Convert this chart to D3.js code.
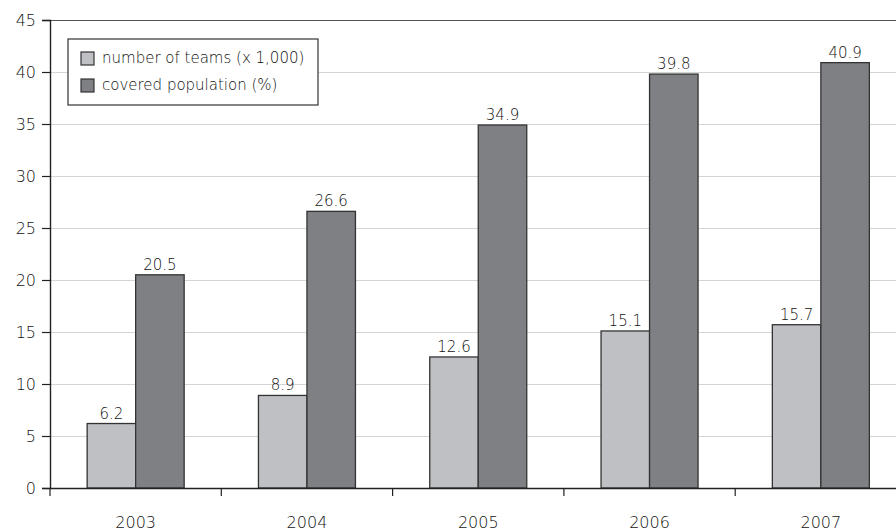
<!DOCTYPE html>
<html>
<head>
<meta charset="utf-8">
<script src="https://cdn.jsdelivr.net/npm/d3@7"></script>
<style>
  body { margin: 0; background: #fff; }
  svg { display: block; font-family: "DejaVu Sans", sans-serif; font-weight: 200; }
  svg text { font-family: "DejaVu Sans", sans-serif; font-weight: 200; }
</style>
</head>
<body>
<svg id="chart" width="896" height="531"></svg>
<script>
var years = ["2003", "2004", "2005", "2006", "2007"];
var teams = [6.2, 8.9, 12.6, 15.1, 15.7];
var coverage = [20.5, 26.6, 34.9, 39.8, 40.9];
var seriesNames = ["number of teams (x 1,000)", "covered population (%)"];
var yTicks = [0, 5, 10, 15, 20, 25, 30, 35, 40, 45];

var colors = ["#bfc0c4", "#7f8084"];
var textColor = "#111";
var plotLeft = 50, plotTop = 20, plotBottom = 488, plotRight = 906.5;

var svg = d3.select("#chart");

var x = d3.scaleBand().domain(years).range([plotLeft, plotRight]).paddingInner(0).paddingOuter(0);
var y = d3.scaleLinear().domain([0, 45]).range([plotBottom, plotTop]);
var inner = d3.scaleBand().domain([0, 1]).range([0, 97]);
var pad = (x.bandwidth() - 97) / 2;

// gridlines
svg.append("g").selectAll("line")
  .data(yTicks.filter(function(d){ return d > 0 && d < 45; }))
  .enter().append("line")
  .attr("x1", plotLeft).attr("x2", 896)
  .attr("y1", function(d){ return y(d) + 0.5; })
  .attr("y2", function(d){ return y(d) + 0.5; })
  .attr("stroke", "#d4d4d4").attr("stroke-width", 1);

// top border
svg.append("line")
  .attr("x1", plotLeft).attr("x2", 896)
  .attr("y1", y(45) + 0.5).attr("y2", y(45) + 0.5)
  .attr("stroke", "#555").attr("stroke-width", 1.2);

// bars
var data = years.map(function(yr, i){ return [teams[i], coverage[i]]; });
var groups = svg.append("g").selectAll("g")
  .data(data).enter().append("g")
  .attr("transform", function(d, i){ return "translate(" + (x(years[i]) + pad) + ",0)"; });

groups.selectAll("rect")
  .data(function(d){ return d; })
  .enter().append("rect")
  .attr("x", function(d, j){ return inner(j); })
  .attr("width", inner.bandwidth())
  .attr("y", function(d){ return y(d); })
  .attr("height", function(d){ return plotBottom - y(d); })
  .attr("fill", function(d, j){ return colors[j]; })
  .attr("stroke", "#333").attr("stroke-width", 1.3);

groups.selectAll("text")
  .data(function(d){ return d; })
  .enter().append("text")
  .attr("x", function(d, j){ return inner(j) + inner.bandwidth() / 2; })
  .attr("y", function(d){ return y(d) - 5; })
  .attr("text-anchor", "middle")
  .attr("font-size", 15).attr("fill", textColor)
  .text(function(d){ return d.toFixed(1); });

// y axis
var yAxis = d3.axisLeft(y).tickValues(yTicks).tickSize(8).tickPadding(6);
var gy = svg.append("g").attr("transform", "translate(" + plotLeft + ",0)").call(yAxis);
gy.attr("font-family", null);
gy.select(".domain").attr("stroke", "#222").attr("stroke-width", 1.4);
gy.selectAll(".tick line").attr("stroke", "#222").attr("stroke-width", 1.2);
gy.selectAll("text").attr("font-size", 16).attr("fill", textColor);

// x axis
var xAxis = d3.axisBottom(x).tickSize(0).tickPadding(29);
var gx = svg.append("g").attr("transform", "translate(0," + plotBottom + ")").call(xAxis);
gx.attr("font-family", null);
gx.select(".domain").attr("stroke", "#222").attr("stroke-width", 1.4);
gx.selectAll("text").attr("font-size", 16).attr("fill", textColor);
gx.selectAll(".sep").data(years).enter().append("line")
  .attr("class", "sep")
  .attr("x1", function(d){ return x(d); }).attr("x2", function(d){ return x(d); })
  .attr("y1", 0).attr("y2", 8)
  .attr("stroke", "#222").attr("stroke-width", 1.2);

// legend
var lg = svg.append("g").attr("transform", "translate(68,39)");
lg.append("rect").attr("width", 250).attr("height", 66)
  .attr("fill", "#fff").attr("stroke", "#333").attr("stroke-width", 1.2);
var items = lg.selectAll(".item").data(seriesNames).enter().append("g")
  .attr("class", "item")
  .attr("transform", function(d, i){ return "translate(13," + (13 + i * 27) + ")"; });
items.append("rect").attr("width", 13).attr("height", 13)
  .attr("fill", function(d, i){ return colors[i]; })
  .attr("stroke", "#333").attr("stroke-width", 1.2);
items.append("text").attr("x", 21).attr("y", 11)
  .attr("font-size", 15).attr("fill", textColor)
  .text(function(d){ return d; });
</script>
</body>
</html>
